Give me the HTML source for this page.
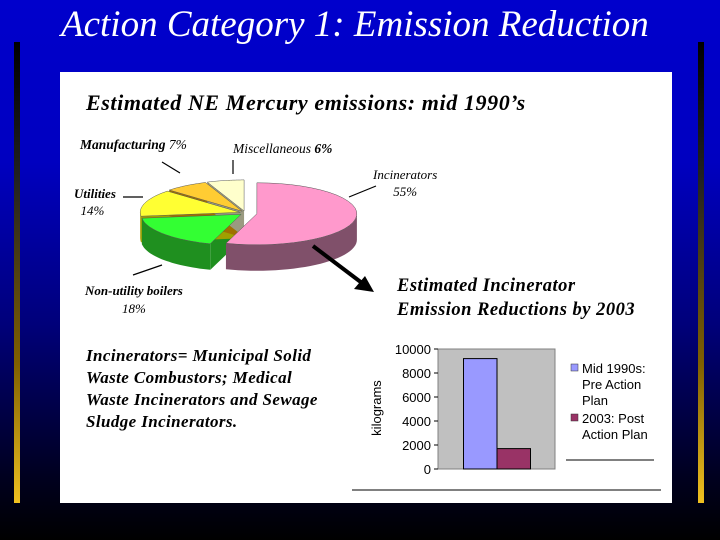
<!DOCTYPE html>
<html><head><meta charset="utf-8"><style>
html,body{margin:0;padding:0}
body{width:720px;height:540px;overflow:hidden;background:linear-gradient(#0000cc 0%,#0000c0 30%,#00007a 60%,#000020 88%,#000 100%);position:relative;font-family:"Liberation Serif",serif}
.t{position:absolute;white-space:nowrap;font-style:italic;font-weight:bold;color:#000}
</style></head><body>
<div class="t" style="left:61px;top:3px;font-size:37px;color:#fff;font-weight:normal;">Action Category 1: Emission Reduction</div>
<div style="position:absolute;left:14px;top:42px;width:6px;height:461px;background:linear-gradient(#000,#222 30%,#806000 70%,#f0c020)"></div>
<div style="position:absolute;left:698px;top:42px;width:6px;height:461px;background:linear-gradient(#000,#222 30%,#806000 70%,#f0c020)"></div>
<div style="position:absolute;left:60px;top:72px;width:612px;height:431px;background:#fff"></div>
<div class="t" style="left:86px;top:90px;font-size:22px;letter-spacing:0.6px">Estimated NE Mercury emissions: mid 1990’s</div>
<svg width="720" height="540" style="position:absolute;left:0;top:0" id="pie"></svg>
<div class="t" style="left:80px;top:137px;font-size:13.5px;">Manufacturing <span style="font-weight:normal">7%</span></div>
<div class="t" style="left:233px;top:141px;font-size:13.5px;font-weight:normal">Miscellaneous <b>6%</b></div>
<div class="t" style="left:373px;top:166px;font-size:13px;font-weight:normal;text-align:center;line-height:17px">Incinerators<br>55%</div>
<div class="t" style="left:74px;top:185px;font-size:13px;line-height:17px">Utilities<br>&nbsp;&nbsp;<span style="font-weight:normal">14%</span></div>
<div class="t" style="left:85px;top:282px;font-size:13px;line-height:18px;text-align:center">Non-utility boilers<br><span style="font-weight:normal">18%</span></div>
<div class="t" style="left:397px;top:274px;font-size:18.5px;line-height:24px;letter-spacing:0.5px">Estimated Incinerator<br>Emission Reductions by 2003</div>
<div class="t" style="left:86px;top:345px;font-size:17px;line-height:22px;letter-spacing:0.4px">Incinerators= Municipal Solid<br>Waste Combustors; Medical<br>Waste Incinerators and Sewage<br>Sludge Incinerators.</div>
<svg width="720" height="540" style="position:absolute;left:0;top:0" id="bar"></svg>
<script>
const NS="http://www.w3.org/2000/svg";
function mk(p,tag,a){const e=document.createElementNS(NS,tag);for(const k in a)e.setAttribute(k,a[k]);p.appendChild(e);return e;}
// ---- pie data ----
const pieCats=["Incinerators","Non-utility boilers","Utilities","Manufacturing","Miscellaneous"];
const pieVals=[55,18,14,7,6];
const topCols=["#ff99cc","#33ff33","#ffff33","#ffcc33","#ffffcc"];
const sideCols=["#80506a","#1f8f1f","#a0a000","#a07000","#9a9a80"];
const pie=document.getElementById('pie');
const cx=245,cy=213,rx=100,ry=31,dep=26;
const explode=[12,5,5,5,5];
let a0=-90;const sl=[];
pieVals.forEach((v,i)=>{const a1=a0+v/100*360;const mid=(a0+a1)/2*Math.PI/180;
 sl.push({a0,a1,ox:explode[i]*Math.cos(mid),oy:explode[i]*Math.sin(mid)*0.42,i});a0=a1;});
function pt(s,a,dy){const r=a*Math.PI/180;return [cx+s.ox+rx*Math.cos(r),cy+s.oy+ry*Math.sin(r)+dy];}
function arcPath(s,b0,b1,dy,rev){let d="";const n=30;for(let k=0;k<=n;k++){const a=rev?b1-(b1-b0)*k/n:b0+(b1-b0)*k/n;const p=pt(s,a,dy);d+=(d?"L":"M")+p[0].toFixed(1)+","+p[1].toFixed(1);}return d;}
sl.forEach(s=>{
 const c=[cx+s.ox,cy+s.oy];
 [s.a0,s.a1].forEach(a=>{const p=pt(s,a,0);const g=mk(pie,'path',{d:`M${c[0]},${c[1]}L${p[0]},${p[1]}L${p[0]},${p[1]+dep}L${c[0]},${c[1]+dep}Z`,fill:sideCols[s.i]});
 });
});
sl.forEach(s=>{
 for(const base of [0,360]){const b0=Math.max(s.a0,base),b1=Math.min(s.a1,base+180);
  if(b1>b0){const d=arcPath(s,b0,b1,0,false)+arcPath(s,b0,b1,dep,true).replace("M","L")+"Z";
   const g=mk(pie,'path',{d,fill:sideCols[s.i]});
   }}
});
sl.forEach(s=>{const c=[cx+s.ox,cy+s.oy];
 const d=`M${c[0]},${c[1]}`+arcPath(s,s.a0,s.a1,0,false).replace("M","L")+"Z";
 const g=mk(pie,'path',{d,fill:topCols[s.i],stroke:"#555","stroke-width":0.5});
 
 
});
const leaders=[[162,162,180,173],[233,160,233,174],[123,197,143,197],[133,275,162,265],[376,186,349,197]];
leaders.forEach(l=>{const g=mk(pie,'line',{x1:l[0],y1:l[1],x2:l[2],y2:l[3],stroke:"#000","stroke-width":1.2});
 });
const ar=mk(pie,'line',{x1:313,y1:246,x2:362,y2:283,stroke:"#000","stroke-width":4});

const ah=mk(pie,'polygon',{points:"374,292 354,289 365,276",fill:"#000"});

// ---- bar data ----
const barCats=["Mid 1990s: Pre Action Plan","2003: Post Action Plan"];
const barVals=[9200,1700];
const yTicks=[0,2000,4000,6000,8000,10000];
const barCols=["#9999ff","#993366"];
const bar=document.getElementById('bar');
const px0=438,px1=555,py0=469,py1=349,yMax=10000;
const Y=v=>py0-(v/yMax)*(py0-py1);
const pa=mk(bar,'rect',{x:px0,y:py1,width:px1-px0,height:py0-py1,fill:"#c0c0c0",stroke:"#808080"});

yTicks.forEach(t=>{const tx=mk(bar,'text',{x:431,y:Y(t)+5,"text-anchor":"end","font-family":"Liberation Sans, sans-serif","font-size":13});tx.textContent=t;
 
 const tk=mk(bar,'line',{x1:434,x2:px0,y1:Y(t),y2:Y(t),stroke:"#000"});
 });
const bw=33.5,bx0=463.5;
barVals.forEach((v,i)=>{const r=mk(bar,'rect',{x:bx0+i*bw,y:Y(v),width:bw,height:py0-Y(v),fill:barCols[i],stroke:"#000","stroke-width":1});
 });
const yl=mk(bar,'text',{x:0,y:0,transform:"translate(381,408) rotate(-90)","text-anchor":"middle","font-family":"Liberation Sans, sans-serif","font-size":13});yl.textContent="kilograms";

const legLines=[["Mid 1990s:","Pre Action","Plan"],["2003: Post","Action Plan"]];
const legY=[368,418];
legLines.forEach((ls,i)=>{const sq=mk(bar,'rect',{x:571,y:legY[i]-4,width:7,height:7,fill:barCols[i],stroke:"#333","stroke-width":0.5});
 
 ls.forEach((s,j)=>{const t=mk(bar,'text',{x:582,y:legY[i]+5+j*16,"font-family":"Liberation Sans, sans-serif","font-size":13});t.textContent=s;
 });});
[[566,654,460],[352,661,490]].forEach(l=>{const g=mk(bar,'line',{x1:l[0],x2:l[1],y1:l[2],y2:l[2],stroke:"#000"});
 });
</script>
</body></html>
